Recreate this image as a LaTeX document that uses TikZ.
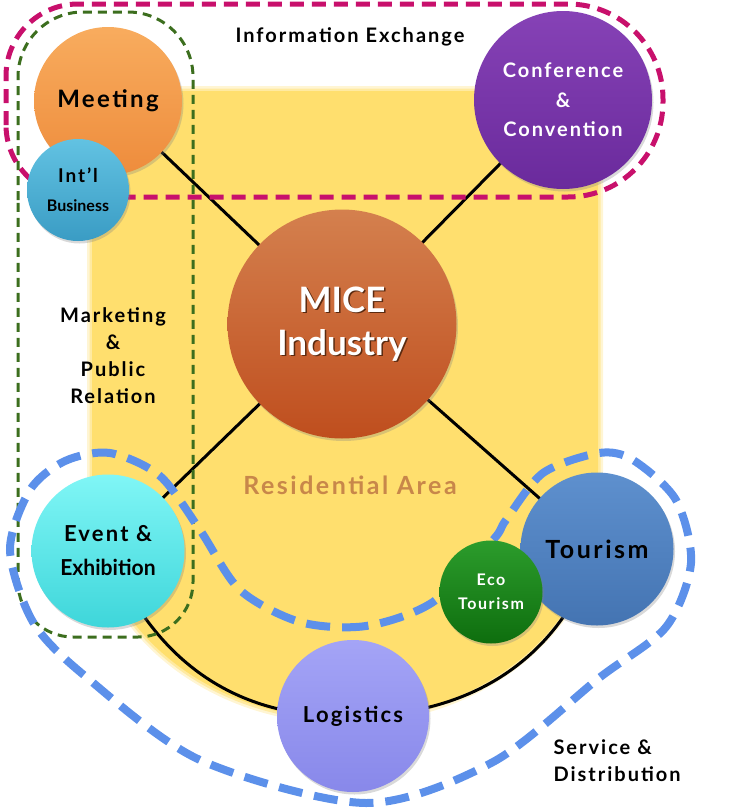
\documentclass[tikz,border=0pt]{standalone}
\usepackage{fontspec}
\setmainfont{Lato}[LetterSpace=10]
\newfontfamily\tightfont{Lato}
\usepackage{graphicx}
\usetikzlibrary{shadows}
\pgfdeclarelayer{bg}
\pgfsetlayers{bg,main}
\definecolor{yellowbg}{HTML}{FFDF6E}
\definecolor{pinkd}{HTML}{C8106C}
\definecolor{greend}{HTML}{3C6E1E}
\definecolor{blued}{HTML}{5C90EA}
\definecolor{meetT}{HTML}{F8AC5E}
\definecolor{meetB}{HTML}{EE8C3C}
\definecolor{intlT}{HTML}{62C2E2}
\definecolor{intlB}{HTML}{3A9CC4}
\definecolor{confT}{HTML}{8642B6}
\definecolor{confB}{HTML}{6A2A9C}
\definecolor{miceT}{HTML}{D4804E}
\definecolor{miceB}{HTML}{BF4E1E}
\definecolor{miceS}{HTML}{5A2A10}
\definecolor{eventT}{HTML}{80F6F6}
\definecolor{eventB}{HTML}{3ED6DA}
\definecolor{tourT}{HTML}{5E90CE}
\definecolor{tourB}{HTML}{4474B2}
\definecolor{ecoT}{HTML}{2C9C2C}
\definecolor{ecoB}{HTML}{0E6E0E}
\definecolor{logiT}{HTML}{A4A4F6}
\definecolor{logiB}{HTML}{8888EA}
\definecolor{resid}{HTML}{C8874A}
\tikzset{
  ball/.style={circle, inner sep=0pt, minimum size=#1, align=center,
    drop shadow={shadow xshift=1.5pt, shadow yshift=-2.5pt, opacity=0.3}},
  conn/.style={line width=3pt, draw=black},
  pinkdash/.style={draw=pinkd, line width=5pt, dash pattern=on 14pt off 8pt},
  greendash/.style={draw=greend, line width=3pt, dash pattern=on 9pt off 6pt},
  bluedash/.style={draw=blued, line width=8pt, dash pattern=on 24pt off 12pt},
  lbl/.style={align=center, font=\bfseries\fontsize{20}{27}\selectfont},
  yellowpath/.style={insert path={(92,91) -- (598,91) -- (598,505)
    arc[start angle=0, end angle=180, x radius=253, y radius=214] -- cycle}},
}
\begin{document}
\begin{tikzpicture}[x=1pt, y=-1pt]
\useasboundingbox (0,0) rectangle (732,811);

% circles
\node[ball=148pt, top color=meetT, bottom color=meetB,
  font=\bfseries\fontsize{24}{28}\selectfont] (meeting) at (108,101) {Meeting};
\node[ball=102pt, top color=intlT, bottom color=intlB,
  font=\bfseries\fontsize{19}{29}\selectfont] (intl) at (78,190)
  {Int’l\\{\tightfont\bfseries\fontsize{16}{29}\selectfont Business}};
\node[ball=178pt, top color=confT, bottom color=confB, text=white,
  font=\bfseries\fontsize{20}{29.5}\selectfont] (conf) at (563,100) {Conference\\\&\\Convention};
\node[ball=229pt, top color=miceT, bottom color=miceB] (mice) at (342,324) {};
\node[align=center, text=miceS, font=\tightfont\bfseries\fontsize{35}{43}\selectfont]
  (micesh) at ([xshift=1.5pt, yshift=-1.5pt]mice.center) {MICE\\Industry};
\node[align=center, text=white, font=\tightfont\bfseries\fontsize{35}{43}\selectfont]
  (micetxt) at (mice.center) {MICE\\Industry};
\node[ball=153pt, top color=eventT, bottom color=eventB,
  font=\bfseries\fontsize{22}{34}\selectfont] (event) at (108,551) {Event \&\\{\tightfont\bfseries\scalebox{0.96}[1]{Exhibition}}};
\node[ball=153pt, top color=tourT, bottom color=tourB,
  font=\bfseries\fontsize{25}{30}\selectfont] (tour) at (597,549) {Tourism};
\node[ball=103pt, top color=ecoT, bottom color=ecoB, text=white,
  font=\bfseries\fontsize{16}{24}\selectfont] (eco) at (491,592) {Eco\\Tourism};
\node[ball=152pt, top color=logiT, bottom color=logiB,
  font=\bfseries\fontsize{22}{28}\selectfont] (logi) at (353,716) {Logistics};

% labels
\node[lbl] (info) at (350,37) {Information Exchange};
\node[lbl] (mkt) at (113,356) {Marketing\\\&\\Public\\Relation};
\node[align=center, text=resid, font=\bfseries\fontsize{25}{30}\selectfont] (res) at (350,485) {Residential Area};
\node[lbl, align=left, anchor=west] (serv) at (550,761) {Service \&\\Distribution};

\begin{pgfonlayer}{bg}
  \draw[yellowbg, line width=10pt, opacity=0.3, line join=round] [yellowpath];
  \draw[yellowbg, line width=5pt, opacity=0.5, line join=round] [yellowpath];
  \fill[yellowbg] [yellowpath];
  \draw[conn] (meeting.center) -- (mice.center);
  \draw[conn] (conf.center) -- (mice.center);
  \draw[conn] (mice.center) -- (event.center);
  \draw[conn] (mice.center) -- (tour.center);
  \draw[conn] (event.center) .. controls (150,650) and (225,720) .. (logi.center);
  \draw[conn] (logi.center) .. controls (470,716) and (560,660) .. (tour.center);
  \draw[pinkdash] (6,125) -- (6,76) arc[start angle=180, end angle=270, radius=72]
    -- (568,4) arc[start angle=270, end angle=360, radius=95]
    -- (663,102) arc[start angle=0, end angle=90, radius=95]
    -- (78,197) arc[start angle=90, end angle=180, radius=72] -- cycle;
  \draw[greendash] (18,200) -- (18,77) arc[start angle=180, end angle=270, radius=65]
    -- (128,12) arc[start angle=270, end angle=360, radius=65]
    -- (193,582) arc[start angle=0, end angle=90, radius=55]
    -- (73,637) arc[start angle=90, end angle=180, radius=55] -- cycle;
  \draw[bluedash] plot[smooth cycle, tension=0.5] coordinates {
    (433,602) (366,626) (300,622) (240,590) (200,530) (160,476) (110,453)
    (65,461) (30,490) (10,550) (33,622) (85,676) (200,760) (366,803)
    (493,762) (599,678) (666,627) (691,563) (676,500) (633,460) (599,453)
    (543,473) (506,520) (493,540)};
\end{pgfonlayer}
\end{tikzpicture}
\end{document}
